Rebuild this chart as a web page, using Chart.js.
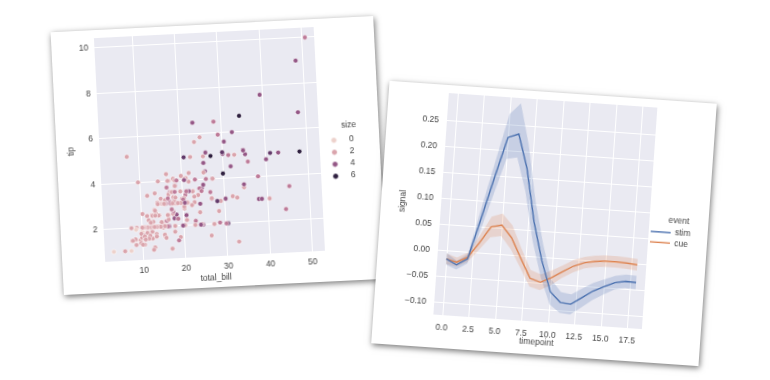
<!DOCTYPE html>
<html>
<head>
<meta charset="utf-8">
<script src="https://cdn.jsdelivr.net/npm/chart.js@4.4.1/dist/chart.umd.min.js"></script>
<style>
  body { margin:0; width:770px; height:380px; background:#fff; overflow:hidden; position:relative; }
  .card { position:absolute; background:#fff; box-shadow: 1px 2px 6px rgba(0,0,0,.55); }
  .card canvas { display:block; }
  #card1 { left:56.5px; top:23.5px; width:323px; height:263px; transform:rotate(-2.9deg); }
  #card2 { left:380px; top:91.5px; width:328px; height:263px; transform:rotate(4deg); }
</style>
</head>
<body>
<div class="card" id="card1"><canvas id="scatterTips" width="323" height="263"></canvas></div>
<div class="card" id="card2"><canvas id="lineFmri" width="328" height="263"></canvas></div>
<script>
// --- tips: total_bill / tip / size ---
const totalBill = [16.99,10.34,21.01,23.68,24.59,25.29,8.77,26.88,15.04,14.78,
10.27,35.26,15.42,18.43,14.83,21.58,10.33,16.29,16.97,20.65,
17.92,20.29,15.77,39.42,19.82,17.81,13.37,12.69,21.70,19.65,
9.55,18.35,15.06,20.69,17.78,24.06,16.31,16.93,18.69,31.27,
16.04,17.46,13.94,9.68,30.40,18.29,22.23,32.40,28.55,18.04,
12.54,10.29,34.81,9.94,25.56,19.49,38.01,26.41,11.24,48.27,
20.29,13.81,11.02,18.29,17.59,20.08,16.45,3.07,20.23,15.01,
12.02,17.07,26.86,25.28,14.73,10.51,17.92,27.20,22.76,17.29,
19.44,16.66,10.07,32.68,15.98,34.83,13.03,18.28,24.71,21.16,
28.97,22.49,5.75,16.32,22.75,40.17,27.28,12.03,21.01,12.46,
11.35,15.38,44.30,22.42,20.92,15.36,20.49,25.21,18.24,14.31,
14.00,7.25,38.07,23.95,25.71,17.31,29.93,10.65,12.43,24.08,
11.69,13.42,14.26,15.95,12.48,29.80,8.52,14.52,11.38,22.82,
19.08,20.27,11.17,12.26,18.26,8.51,10.33,14.15,16.00,13.16,
17.47,34.30,41.19,27.05,16.43,8.35,18.64,11.87,9.78,7.51,
14.07,13.13,17.26,24.55,19.77,29.85,48.17,25.00,13.39,16.49,
21.50,12.66,16.21,13.81,17.51,24.52,20.76,31.71,10.59,10.63,
50.81,15.81,7.25,31.85,16.82,32.90,17.89,14.48,9.60,34.63,
34.65,23.33,45.35,23.17,40.55,20.69,20.90,30.46,18.15,23.10,
15.69,19.81,28.44,15.48,16.58,7.56,10.34,43.11,13.00,13.51,
18.71,12.74,13.00,16.40,20.53,16.47,26.59,38.73,24.27,12.76,
30.06,25.89,48.33,13.27,28.17,12.90,28.15,11.59,7.74,30.14,
12.16,13.42,8.58,15.98,13.42,16.27,10.09,20.45,13.28,22.12,
24.01,15.69,11.61,10.77,15.53,10.07,12.60,32.83,35.83,29.03,
27.18,22.67,17.82,18.78];
const tip = [1.01,1.66,3.50,3.31,3.61,4.71,2.00,3.12,1.96,3.23,
1.71,5.00,1.57,3.00,3.02,3.92,1.67,3.71,3.50,3.35,
4.08,2.75,2.23,7.58,3.18,2.34,2.00,2.00,4.30,3.00,
1.45,2.50,3.00,2.45,3.27,3.60,2.00,3.07,2.31,5.00,
2.24,2.54,3.06,1.32,5.60,3.00,5.00,6.00,2.05,3.00,
2.50,2.60,5.20,1.56,4.34,3.51,3.00,1.50,1.76,6.73,
3.21,2.00,1.98,3.76,2.64,3.15,2.47,1.00,2.01,2.09,
1.97,3.00,3.14,5.00,2.20,1.25,3.08,4.00,3.00,2.71,
3.00,3.40,1.83,5.00,2.03,5.17,2.00,4.00,5.85,3.00,
3.00,3.50,1.00,4.30,3.25,4.73,4.00,1.50,3.00,1.50,
2.50,3.00,2.50,3.48,4.08,1.64,4.06,4.29,3.76,4.00,
3.00,1.00,4.00,2.55,4.00,3.50,5.07,1.50,1.80,2.92,
2.31,1.68,2.50,2.00,2.52,4.20,1.48,2.00,2.00,2.18,
1.50,2.83,1.50,2.00,3.25,1.25,2.00,2.00,2.00,2.75,
3.50,6.70,5.00,5.00,2.30,1.50,1.36,1.63,1.73,2.00,
2.50,2.00,2.74,2.00,2.00,5.14,5.00,3.75,2.61,2.00,
3.50,2.50,2.00,2.00,3.00,3.48,2.24,4.50,1.61,2.00,
10.00,3.16,5.15,3.18,4.00,3.11,2.00,2.00,4.00,3.55,
3.68,5.65,3.50,6.50,3.00,5.00,3.50,2.00,3.50,4.00,
1.50,4.19,2.56,2.02,4.00,1.44,2.00,5.00,2.00,2.00,
4.00,2.01,2.00,2.50,4.00,3.23,3.41,3.00,2.03,2.23,
2.00,5.16,9.00,2.50,6.50,1.10,3.00,1.50,1.44,3.09,
2.20,3.48,1.92,3.00,1.58,2.50,2.00,3.00,2.72,2.88,
2.00,3.00,3.39,1.47,3.00,1.25,1.00,1.17,4.67,5.92,
2.00,2.00,1.75,3.00];
const partySize = [2,3,3,2,4,4,2,4,2,2,
2,4,2,4,2,2,3,3,3,3,
2,2,2,4,2,4,2,2,2,2,
2,4,2,4,2,3,3,3,3,3,
3,2,2,2,4,2,2,4,3,2,
2,2,4,2,4,2,4,2,2,4,
2,2,2,4,3,3,2,1,2,2,
2,3,2,2,2,2,2,4,2,2,
2,2,1,2,2,4,2,2,2,2,
2,2,2,2,2,4,2,2,2,2,
2,2,3,2,2,2,2,2,2,2,
2,1,3,2,3,2,4,2,2,4,
2,2,2,2,2,6,2,2,2,3,
2,2,2,2,2,2,2,2,2,2,
2,6,5,6,2,2,3,2,2,2,
2,2,3,4,4,5,6,4,2,4,
4,2,3,2,2,3,2,4,2,2,
3,2,2,2,2,2,2,2,2,2,
4,2,3,4,2,5,3,5,3,3,
2,2,2,2,2,2,2,4,2,2,
3,2,2,2,4,3,3,4,2,2,
3,4,4,2,3,2,5,2,2,4,
2,2,1,3,2,2,2,4,2,2,
4,3,2,2,2,2,2,2,3,3,
2,2,2,2];
const billTicks = [10, 20, 30, 40, 50];
const tipTicks = [2, 4, 6, 8, 10];
const legendSizes = [0, 2, 4, 6];

// --- fmri: mean signal and band per event ---
const timepoints = [0,1,2,3,4,5,6,7,8,9,10,11,12,13,14,15,16,17,18];
const stimSignal = [-0.015,-0.025,-0.012,0.066,0.147,0.225,0.233,0.168,0.068,-0.006,-0.064,-0.083,-0.085,-0.071,-0.057,-0.047,-0.038,-0.034,-0.035];
const stimLow  = [-0.026,-0.034,-0.021,0.042,0.113,0.184,0.188,0.124,0.030,-0.038,-0.088,-0.103,-0.105,-0.090,-0.074,-0.062,-0.051,-0.047,-0.048];
const stimHigh = [-0.004,-0.017,-0.003,0.090,0.180,0.270,0.292,0.214,0.108,0.027,-0.040,-0.063,-0.066,-0.053,-0.041,-0.033,-0.025,-0.021,-0.022];
const cueSignal = [-0.015,-0.020,-0.009,0.020,0.052,0.057,0.034,-0.004,-0.041,-0.047,-0.037,-0.024,-0.012,-0.004,0.000,0.002,0.002,0.001,-0.001];
const cueLow  = [-0.025,-0.028,-0.018,0.006,0.032,0.036,0.012,-0.022,-0.057,-0.062,-0.051,-0.036,-0.024,-0.015,-0.011,-0.009,-0.009,-0.010,-0.012];
const cueHigh = [-0.005,-0.011,0.000,0.034,0.072,0.079,0.058,0.015,-0.025,-0.032,-0.023,-0.012,0.000,0.007,0.011,0.013,0.013,0.012,0.010];
const timeTicks = [0, 2.5, 5, 7.5, 10, 12.5, 15, 17.5];
const signalTicks = [-0.10, -0.05, 0.00, 0.05, 0.10, 0.15, 0.20, 0.25];

// colours (cubehelix for size 1..6)
const sizeColors = ['#edd1cb', '#daa4ac', '#bd7a98', '#935685', '#613969', '#2d1e3e'];
const stimColor = '#4c72b0';
const cueColor = '#dd8452';
const txt = '#444';
const fnt = { family: 'Liberation Sans, Arial, sans-serif', size: 8.5 };

function sizeColor(v) {
  const i = Math.min(Math.max(v, 1), 6) - 1;
  return sizeColors[i];
}

// grey plot background like seaborn darkgrid
const plotBg = {
  id: 'plotBg',
  beforeDraw(chart) {
    const a = chart.chartArea, ctx = chart.ctx;
    ctx.save();
    ctx.fillStyle = '#eaeaf2';
    ctx.fillRect(a.left, a.top, a.width, a.height);
    ctx.restore();
  }
};

// keep the right legend at a fixed width
const legendWidth = {
  id: 'legendWidth',
  afterInit(chart, args, opts) {
    const lg = chart.legend;
    const fit = lg.fit.bind(lg);
    lg.fit = function () { fit(); this.width = opts.width; };
  }
};

function dot(color) {
  const c = document.createElement('canvas');
  c.width = 7; c.height = 7;
  const g = c.getContext('2d');
  g.beginPath();
  g.arc(3.5, 3.5, 2.8, 0, Math.PI * 2);
  g.fillStyle = color;
  g.fill();
  g.lineWidth = 0.6;
  g.strokeStyle = '#fff';
  g.stroke();
  return c;
}

function axis(ticksArr, fmt, pad, size, title) {
  return {
    type: 'linear',
    afterBuildTicks: s => { s.ticks = ticksArr.map(v => ({ value: v })); },
    afterFit: s => {
      if (s.isHorizontal()) s.height = size; else s.width = size;
      s.paddingTop = 0; s.paddingBottom = 0; s.paddingLeft = 0; s.paddingRight = 0;
    },
    grid: { color: '#fff', lineWidth: 1, drawTicks: false },
    border: { display: false },
    ticks: { color: txt, font: fnt, padding: pad, callback: fmt },
    title: title
  };
}

// ---- scatter ----
new Chart(document.getElementById('scatterTips'), {
  type: 'scatter',
  data: {
    datasets: [{
      label: 'size',
      data: totalBill.map((b, i) => ({ x: b, y: tip[i] })),
      pointBackgroundColor: partySize.map(sizeColor),
      pointBorderColor: '#fff',
      pointBorderWidth: 0.5,
      pointRadius: 2.4
    }]
  },
  options: {
    responsive: false,
    animation: false,
    layout: { padding: { left: 6, top: 8, right: 0, bottom: 2 } },
    scales: {
      x: Object.assign(axis(billTicks, v => String(v), 6, 29,
        { display: true, text: 'total_bill', color: txt, font: fnt, padding: { top: 2, bottom: 2 } }),
        { min: 0.9, max: 53 }),
      y: Object.assign(axis(tipTicks, v => String(v), 6, 37,
        { display: true, text: 'tip', color: txt, font: fnt, padding: { top: 4, bottom: 2 } }),
        { min: 0.58, max: 10.44 })
    },
    plugins: {
      legend: {
        position: 'right',
        title: { display: true, text: 'size', color: txt, font: fnt, padding: { top: 0, bottom: 1 } },
        labels: {
          usePointStyle: true,
          pointStyleWidth: 22,
          padding: 3.5,
          color: txt,
          font: fnt,
          generateLabels: () => legendSizes.map(v => ({
            text: String(v),
            fillStyle: sizeColor(v),
            strokeStyle: '#fff',
            lineWidth: 0,
            pointStyle: dot(sizeColor(v)),
            fontColor: txt,
            hidden: false,
            datasetIndex: 0
          }))
        }
      },
      tooltip: { enabled: false },
      legendWidth: { width: 60 }
    }
  },
  plugins: [plotBg, legendWidth]
});

// ---- line with bands ----
function pts(vals) { return timepoints.map((t, i) => ({ x: t, y: vals[i] })); }
function band(vals, color, fill) {
  return { label: '', data: pts(vals), borderWidth: 0, pointRadius: 0, backgroundColor: color, fill: fill };
}
const signalFmt = v => (v < 0 ? '\u2212' : '') + Math.abs(v).toFixed(2);

new Chart(document.getElementById('lineFmri'), {
  type: 'line',
  data: {
    datasets: [
      { label: 'stim', data: pts(stimSignal), borderColor: stimColor, backgroundColor: stimColor, borderWidth: 1.4, pointRadius: 0, fill: false },
      { label: 'cue', data: pts(cueSignal), borderColor: cueColor, backgroundColor: cueColor, borderWidth: 1.4, pointRadius: 0, fill: false },
      band(stimHigh, 'rgba(76,114,176,0.22)', '+1'),
      band(stimLow, 'rgba(76,114,176,0.22)', false),
      band(cueHigh, 'rgba(221,132,82,0.22)', '+1'),
      band(cueLow, 'rgba(221,132,82,0.22)', false)
    ]
  },
  options: {
    responsive: false,
    animation: false,
    layout: { padding: { left: 13, top: 8, right: 0, bottom: 7 } },
    scales: {
      x: Object.assign(axis(timeTicks, v => v.toFixed(1), 8, 26,
        { display: true, text: 'timepoint', color: txt, font: fnt, padding: { top: 2, bottom: 0 } }),
        { min: -0.85, max: 18.85 }),
      y: Object.assign(axis(signalTicks, signalFmt, 8, 47,
        { display: true, text: 'signal', color: txt, font: fnt, padding: { top: 4, bottom: 2 } }),
        { min: -0.123, max: 0.302 })
    },
    plugins: {
      legend: {
        position: 'right',
        title: { display: true, text: 'event', color: txt, font: fnt, padding: { top: 0, bottom: 0 } },
        labels: {
          usePointStyle: true,
          pointStyle: 'line',
          pointStyleWidth: 20,
          padding: 2,
          color: txt,
          font: fnt,
          filter: item => item.datasetIndex < 2
        }
      },
      tooltip: { enabled: false },
      legendWidth: { width: 59 }
    }
  },
  plugins: [plotBg, legendWidth]
});
</script>
</body>
</html>
